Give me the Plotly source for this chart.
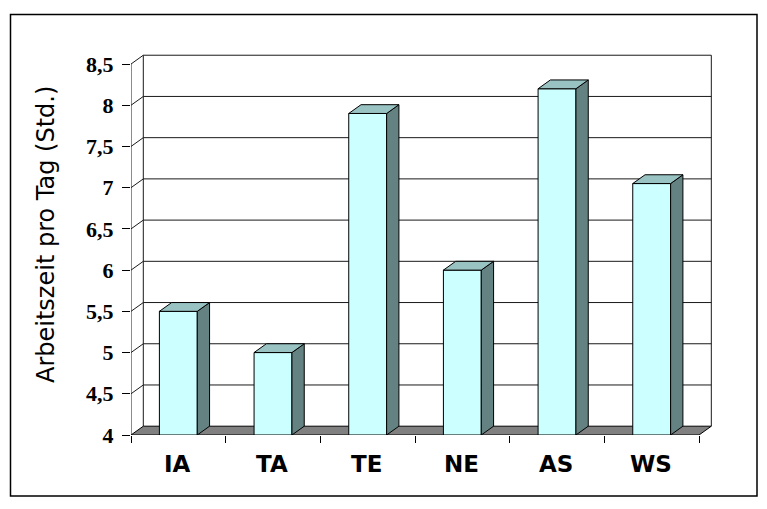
import plotly.graph_objects as go

# Arbeitszeit pro Tag je Gruppe (Stunden)
categories = ["IA", "TA", "TE", "NE", "AS", "WS"]
hours = [5.5, 5.0, 7.9, 6.0, 8.2, 7.05]
y_ticks = [4, 4.5, 5, 5.5, 6, 6.5, 7, 7.5, 8, 8.5]
y_tick_text = ["4", "4,5", "5", "5,5", "6", "6,5", "7", "7,5", "8", "8,5"]
y_title = "Arbeitszeit pro Tag (Std.)"

# Figure geometry
W, H = 767, 509
ML, MR, MT, MB = 131, 44, 52, 74
PX_X = 94.67   # pixels per category
PX_Y = 82.44   # pixels per hour
plot_w = W - ML - MR
plot_h = H - MT - MB
x_range = [0, plot_w / PX_X]
y_min = y_ticks[0]
y_max_tick = y_ticks[-1]
y_range = [y_min, y_min + plot_h / PX_Y]

# 3D depth offset expressed in axis units
DX = 12.3 / PX_X
DY = 8.8 / PX_Y
BAR_L, BAR_R = 0.3, 0.7
n = len(categories)

FRONT = "#CCFFFF"
TOP = "#99C2C2"
SIDE = "#658282"
FLOOR = "#808080"
EDGE = "#000000"

fig = go.Figure()

# Back wall, side wall grid lines and front axes
gx, gy = [], []
for t in y_ticks[1:]:
    gx += [0, DX, n + DX, None]
    gy += [t, t + DY, t + DY, None]
gx += [DX, DX, None, n + DX, n + DX, None, 0, 0, None, 0, n, None]
gy += [y_min + DY, y_max_tick + DY, None, y_min + DY, y_max_tick + DY, None,
       y_min, y_max_tick, None, y_min, y_min, None]
fig.add_trace(go.Scatter(x=gx, y=gy, mode="lines",
                         line=dict(color="#1a1a1a", width=1),
                         hoverinfo="skip", showlegend=False))

# Floor
fig.add_trace(go.Scatter(
    x=[0, n, n + DX, DX, 0], y=[y_min, y_min, y_min + DY, y_min + DY, y_min],
    mode="lines", fill="toself", fillcolor=FLOOR,
    line=dict(color=EDGE, width=1), hoverinfo="skip", showlegend=False))

# Columns: front, side and top faces
for i, v in enumerate(hours):
    l, r = i + BAR_L, i + BAR_R
    faces = [
        ([l, r, r, l, l], [y_min, y_min, v, v, y_min], FRONT),
        ([r, r + DX, r + DX, r, r], [y_min, y_min + DY, v + DY, v, y_min], SIDE),
        ([l, r, r + DX, l + DX, l], [v, v, v + DY, v + DY, v], TOP),
    ]
    for fx, fy, col in faces:
        fig.add_trace(go.Scatter(
            x=fx, y=fy, mode="lines", fill="toself", fillcolor=col,
            line=dict(color=EDGE, width=1), hoverinfo="skip",
            showlegend=False, name=categories[i]))

# Category labels centred under each column slot
for i, c in enumerate(categories):
    fig.add_annotation(x=i + 0.5, y=y_min, xref="x", yref="y", text=f"<b>{c}</b>",
                       showarrow=False, yanchor="middle", yshift=-29, xshift=-1,
                       font=dict(family="DejaVu Sans", size=23, color="black"))

# Y axis title
fig.add_annotation(x=0, y=(435 - 235) / plot_h, xref="x", yref="paper",
                   text=y_title, textangle=-90, showarrow=False,
                   xanchor="center", yanchor="middle", xshift=-85,
                   font=dict(family="DejaVu Sans", size=24, color="black"))

# Chart frame
def px_to_paper_x(px):
    return (px - ML) / plot_w

def px_to_paper_y(py):
    return (H - MB - py) / plot_h

fig.add_shape(type="rect", xref="paper", yref="paper",
              x0=px_to_paper_x(10.5), x1=px_to_paper_x(757),
              y0=px_to_paper_y(496), y1=px_to_paper_y(14.5),
              line=dict(color="black", width=1.5), fillcolor="rgba(0,0,0,0)")

fig.update_layout(
    width=W, height=H,
    margin=dict(l=ML, r=MR, t=MT, b=MB, pad=0),
    paper_bgcolor="white", plot_bgcolor="white",
    showlegend=False,
    xaxis=dict(range=x_range, tickvals=list(range(n + 1)), showticklabels=False,
               ticks="outside", ticklen=7, tickcolor="black", tickwidth=1,
               showgrid=False, zeroline=False, showline=False, fixedrange=True),
    yaxis=dict(range=y_range, tickvals=y_ticks,
               ticktext=[f"<b>{t}</b>" for t in y_tick_text],
               ticks="outside", ticklen=8, tickcolor="black", tickwidth=1,
               ticklabelstandoff=4,
               tickfont=dict(family="Liberation Serif", size=22, color="black"),
               showgrid=False, zeroline=False, showline=False, fixedrange=True),
)

fig.write_html("out.html")
